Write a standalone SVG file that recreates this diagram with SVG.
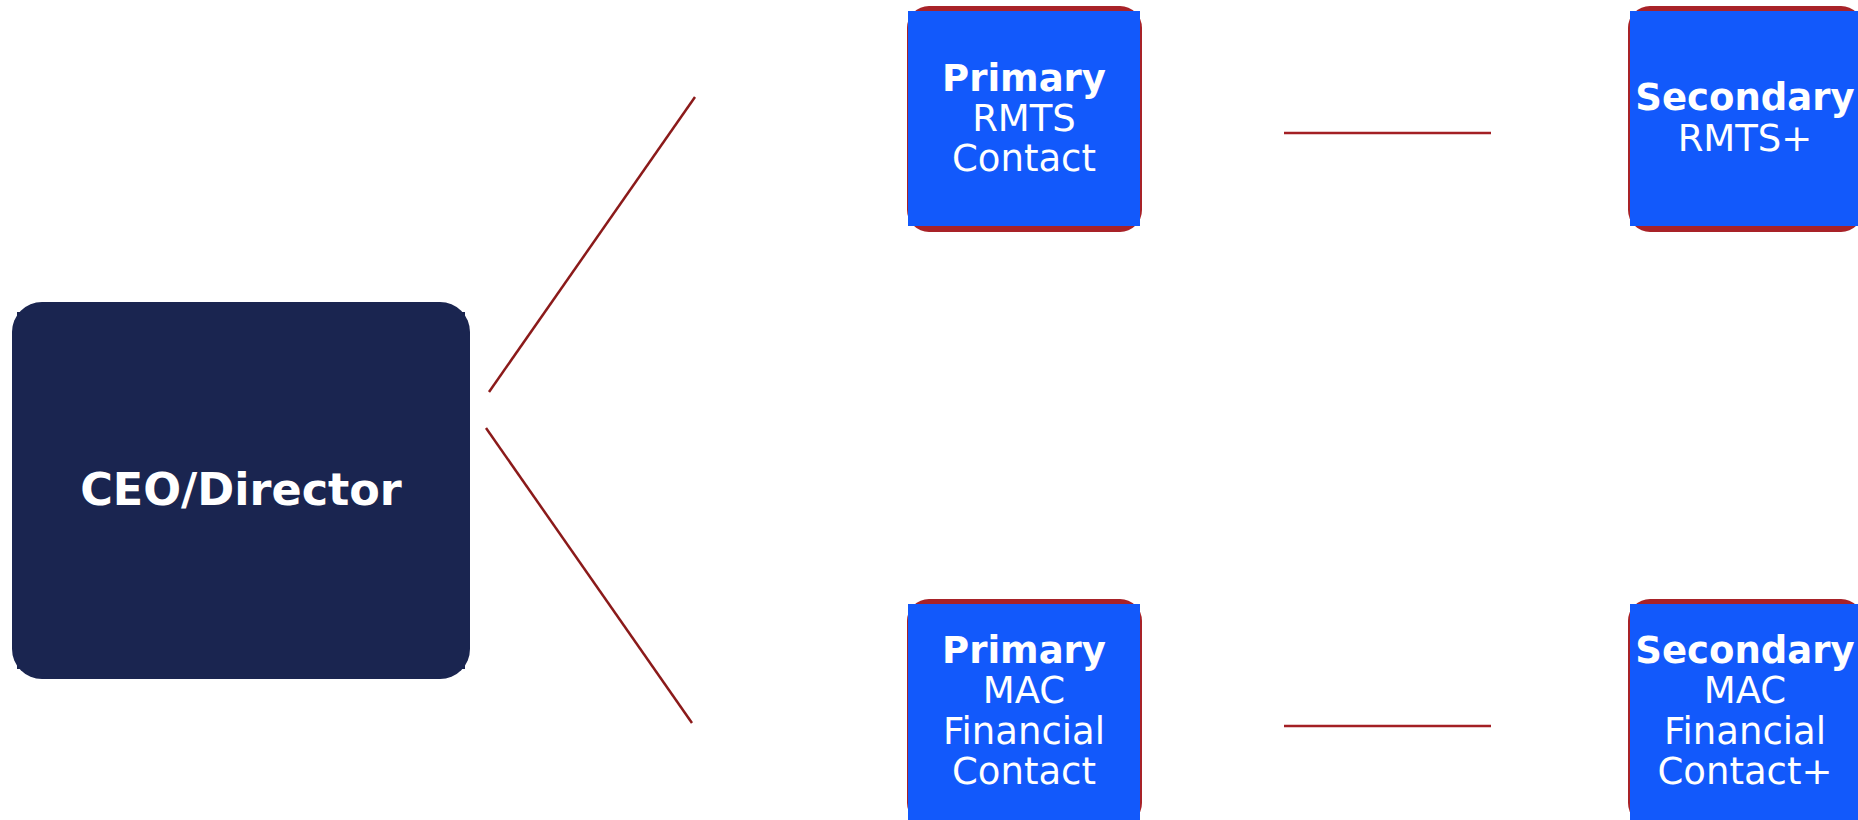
<svg xmlns="http://www.w3.org/2000/svg" width="1858" height="820" viewBox="0 0 1858 820">
  <style>
    .frame { fill: #A82228; }
    .card { fill: #1259FB; }
    .head { fill: #1A2550; }
    .title { font-family: "DejaVu Sans", Verdana, sans-serif; font-weight: bold; fill: #FFFFFF; text-anchor: middle; }
    .label { font-family: "DejaVu Sans", Verdana, sans-serif; fill: #FFFFFF; text-anchor: middle; }
    .diag { stroke: #8B1A1A; stroke-width: 2.5; fill: none; }
    .link { stroke: #A31F24; stroke-width: 2.5; fill: none; }
  </style>
  <rect width="1858" height="820" fill="#FFFFFF"/>

  <!-- links -->
  <g id="connectors">
    <line class="diag" x1="489" y1="392" x2="695" y2="97"/>
    <line class="diag" x1="486" y1="428" x2="692" y2="723"/>
    <line class="link" x1="1284" y1="133" x2="1491" y2="133"/>
    <line class="link" x1="1284" y1="726" x2="1491" y2="726"/>
  </g>

  <!-- top of the chart -->
  <g id="ceo">
    <rect class="head" x="17" y="312" width="448" height="357"/>
    <rect class="head" x="12" y="302" width="458" height="377" rx="30" ry="30"/>
    <text class="title" x="241" y="505" font-size="44.5">CEO/Director</text>
  </g>

  <!-- RMTS contacts -->
  <g id="primary-rmts">
    <rect class="frame" x="907" y="6" width="235" height="226" rx="22" ry="22"/>
    <rect class="card" x="908" y="11" width="232" height="215"/>
    <text class="title" x="1024" y="91" font-size="37">Primary</text>
    <text class="label" x="1024" y="131" font-size="37">RMTS</text>
    <text class="label" x="1024" y="171" font-size="37">Contact</text>
  </g>

  <g id="secondary-rmts">
    <rect class="frame" x="1628" y="6" width="235" height="226" rx="22" ry="22"/>
    <rect class="card" x="1630" y="11" width="232" height="215"/>
    <text class="title" x="1745" y="110" font-size="37">Secondary</text>
    <text class="label" x="1745" y="151" font-size="37">RMTS+</text>
  </g>

  <!-- MAC financial contacts -->
  <g id="primary-mac">
    <rect class="frame" x="907" y="599" width="235" height="226" rx="22" ry="22"/>
    <rect class="card" x="908" y="604" width="232" height="216"/>
    <text class="title" x="1024" y="663" font-size="37">Primary</text>
    <text class="label" x="1024" y="703" font-size="37">MAC</text>
    <text class="label" x="1024" y="744" font-size="37">Financial</text>
    <text class="label" x="1024" y="784" font-size="37">Contact</text>
  </g>

  <g id="secondary-mac">
    <rect class="frame" x="1628" y="599" width="235" height="226" rx="22" ry="22"/>
    <rect class="card" x="1630" y="604" width="232" height="216"/>
    <text class="title" x="1745" y="663" font-size="37">Secondary</text>
    <text class="label" x="1745" y="703" font-size="37">MAC</text>
    <text class="label" x="1745" y="744" font-size="37">Financial</text>
    <text class="label" x="1745" y="784" font-size="37">Contact+</text>
  </g>
</svg>
